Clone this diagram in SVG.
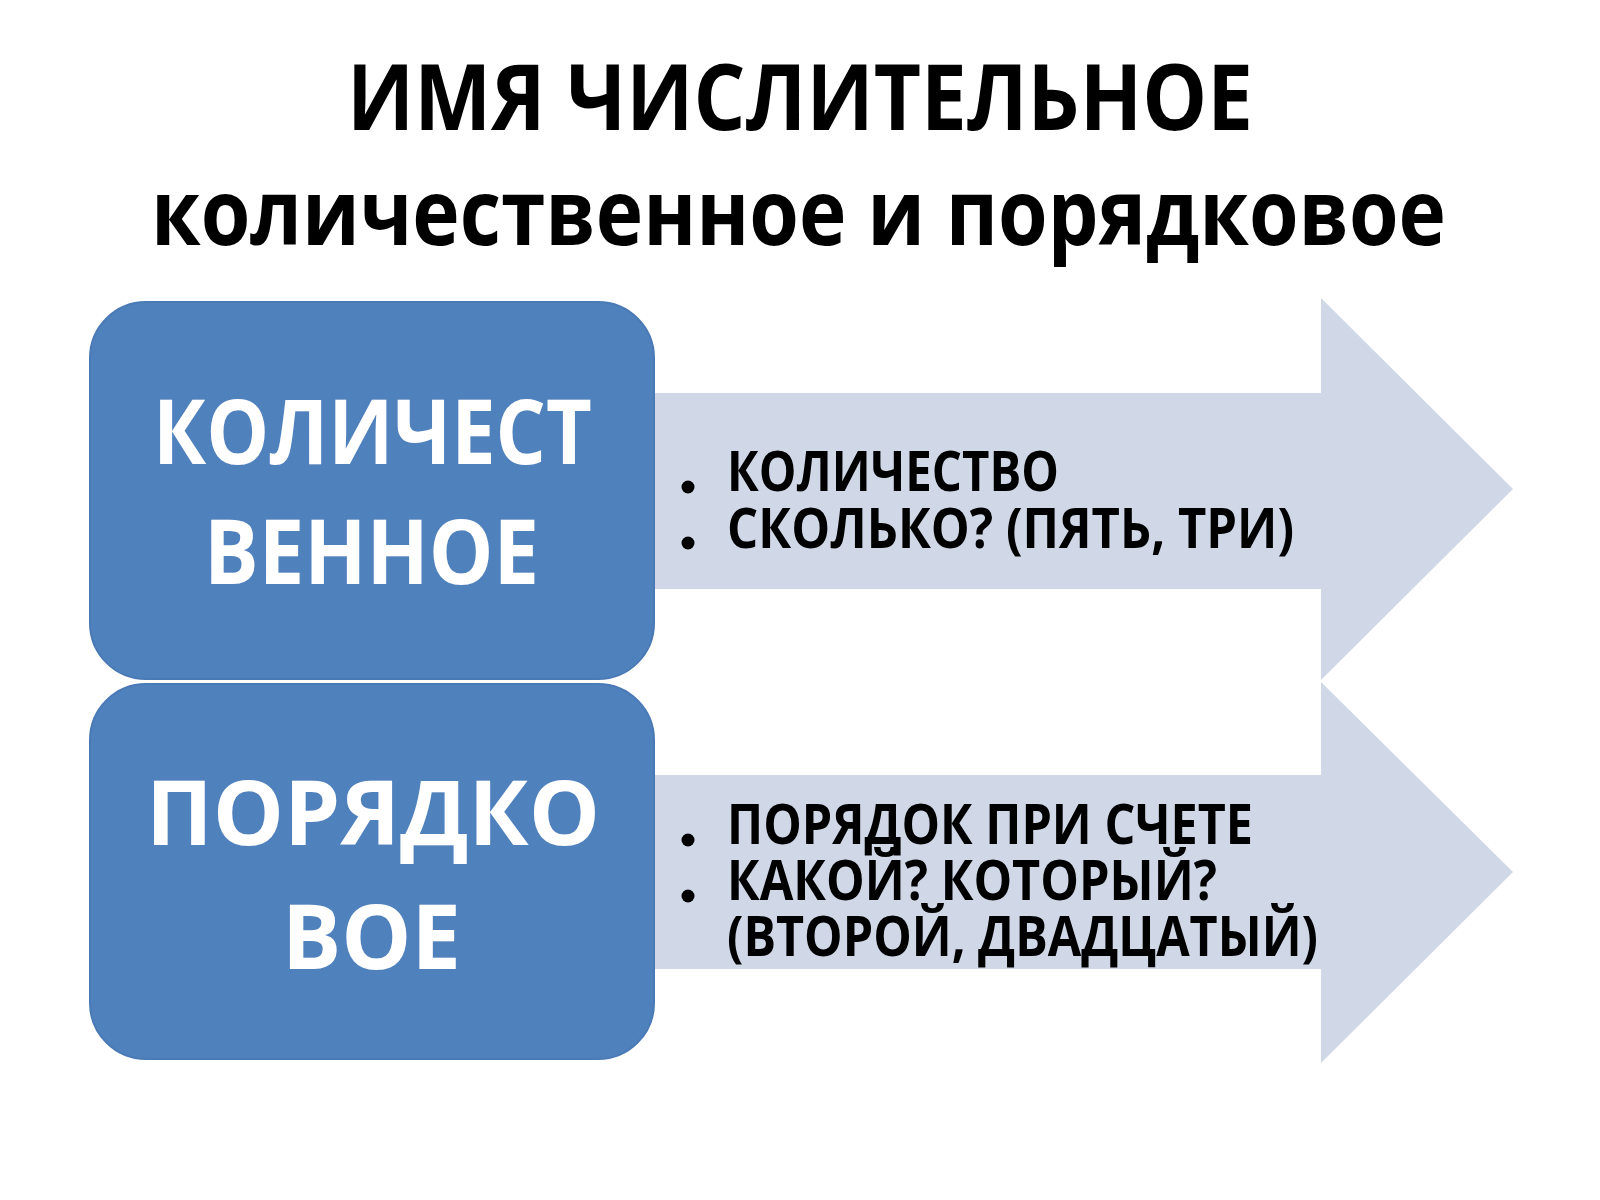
<svg xmlns="http://www.w3.org/2000/svg" width="1600" height="1200" viewBox="0 0 1600 1200">
<style>
.title{font-family:"Open Sans","DejaVu Sans",sans-serif;font-weight:bold;fill:#000;font-size:92px}
.box{fill:#4F81BD;stroke:#4A7AB5;stroke-width:2}
.boxt{font-family:"Open Sans","DejaVu Sans",sans-serif;font-weight:bold;fill:#fff;font-size:90px}
.arrow{fill:#D0D8E8}
.item{font-family:"Open Sans","DejaVu Sans",sans-serif;font-weight:bold;fill:#000;font-size:56px}
.dot{fill:#000}
</style>
<rect width="1600" height="1200" fill="#fff"/>
<g id="title">
<text class="title" x="347" y="130" textLength="906" lengthAdjust="spacingAndGlyphs">ИМЯ ЧИСЛИТЕЛЬНОЕ</text>
<text class="title" x="151" y="245" textLength="1295" lengthAdjust="spacingAndGlyphs">количественное и порядковое</text>
</g>
<g id="connectors">
<polygon class="arrow" points="600,393 1321,393 1321,298 1513,489 1321,680 1321,589 600,589"/>
<polygon class="arrow" points="600,775 1321,775 1321,682 1513,872 1321,1063 1321,969 600,969"/>
</g>
<g id="list1">
<circle class="dot" cx="688" cy="487" r="6.5"/>
<circle class="dot" cx="688" cy="543" r="6.5"/>
<text class="item" x="727" y="491" textLength="332" lengthAdjust="spacingAndGlyphs">КОЛИЧЕСТВО</text>
<text class="item" x="727" y="548" textLength="567" lengthAdjust="spacingAndGlyphs">СКОЛЬКО? (ПЯТЬ, ТРИ)</text>
</g>
<g id="list2">
<circle class="dot" cx="688" cy="840" r="6.5"/>
<circle class="dot" cx="688" cy="896" r="6.5"/>
<text class="item" x="727" y="844" textLength="526" lengthAdjust="spacingAndGlyphs">ПОРЯДОК ПРИ СЧЕТЕ</text>
<text class="item" x="727" y="900" textLength="490" lengthAdjust="spacingAndGlyphs">КАКОЙ? КОТОРЫЙ?</text>
<text class="item" x="727" y="956" textLength="591" lengthAdjust="spacingAndGlyphs">(ВТОРОЙ, ДВАДЦАТЫЙ)</text>
</g>
<g id="box1">
<rect class="box" x="90" y="302" width="564" height="377" rx="56" ry="56"/>
<text class="boxt" x="153" y="464" textLength="439" lengthAdjust="spacingAndGlyphs">КОЛИЧЕСТ</text>
<text class="boxt" x="204" y="584" textLength="335" lengthAdjust="spacingAndGlyphs">ВЕННОЕ</text>
</g>
<g id="box2">
<rect class="box" x="90" y="684" width="564" height="375" rx="56" ry="56"/>
<text class="boxt" x="146" y="845" textLength="454" lengthAdjust="spacingAndGlyphs">ПОРЯДКО</text>
<text class="boxt" x="282" y="969" textLength="179" lengthAdjust="spacingAndGlyphs">ВОЕ</text>
</g>
</svg>
